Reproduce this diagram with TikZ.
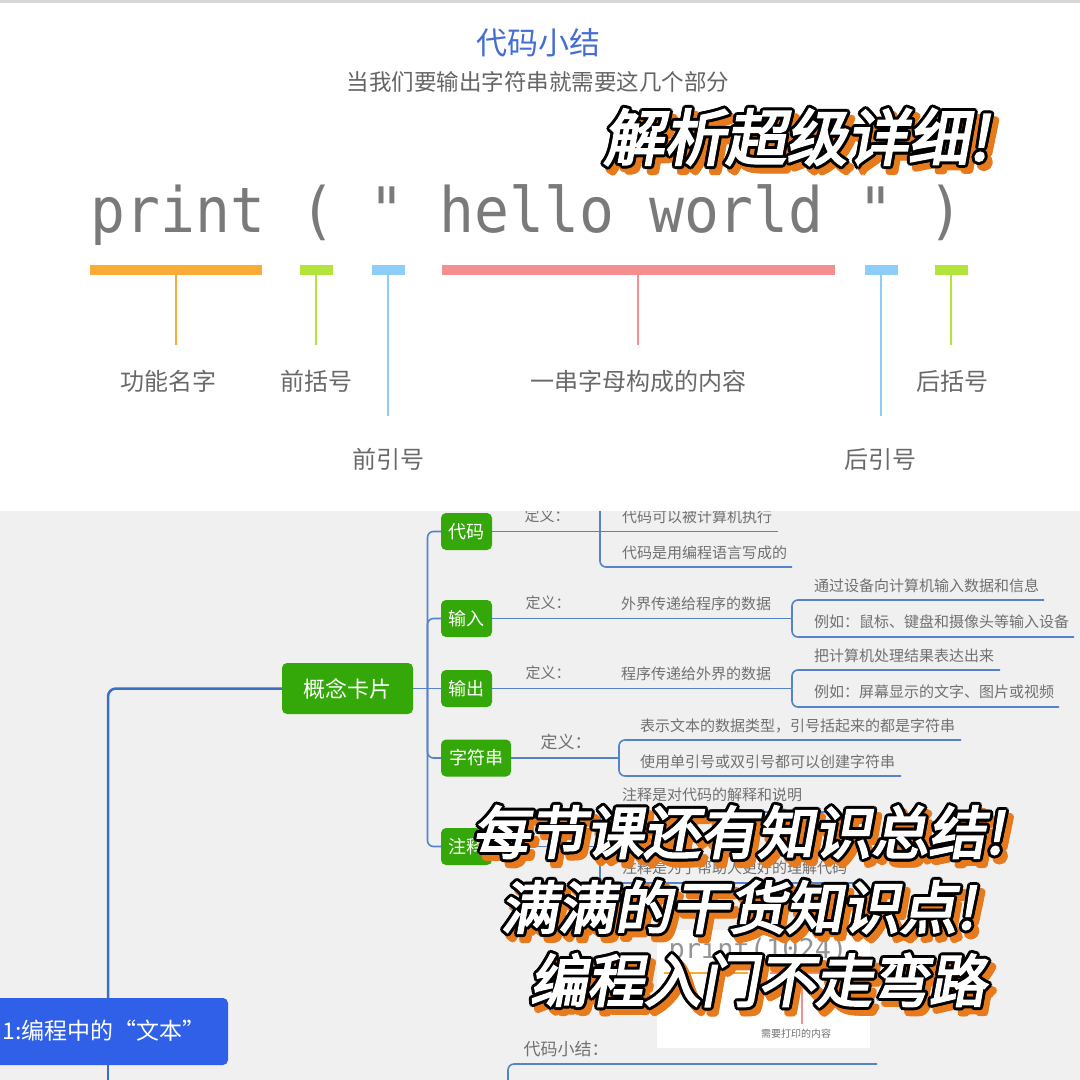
\documentclass[tikz,border=0pt]{standalone}
\usepackage{fontspec}
\usepackage{graphicx}
\setmainfont{Noto Sans CJK SC}
\newfontfamily\monofnt{DejaVu Sans Mono}
\newfontfamily\heavyfnt[FakeBold=3.5,FakeSlant=0.18]{Noto Sans CJK SC}

\definecolor{bggray}{RGB}{240,240,240}
\definecolor{titleblue}{RGB}{70,110,210}
\definecolor{subgray}{RGB}{100,100,100}
\definecolor{labgray}{RGB}{105,105,105}
\definecolor{codegray}{RGB}{122,122,122}
\definecolor{barorange}{RGB}{250,172,56}
\definecolor{barlime}{RGB}{178,228,60}
\definecolor{barblue}{RGB}{140,205,250}
\definecolor{barpink}{RGB}{245,142,142}
\definecolor{mmgreen}{RGB}{52,168,8}
\definecolor{mmline}{RGB}{85,130,200}
\definecolor{mmtrunk}{RGB}{60,110,195}
\definecolor{mmtext}{RGB}{112,112,112}
\definecolor{rootblue}{RGB}{48,96,232}
\definecolor{shadoworange}{RGB}{232,122,30}
\definecolor{topline}{RGB}{215,215,215}

\tikzset{
  gbox/.style={fill=mmgreen, rounded corners=5pt, text=white, inner sep=0pt,
    font=\fontsize{18}{20}\selectfont, minimum height=37pt},
  mmt/.style={text=mmtext, font=\fontsize{15}{17}\selectfont, inner sep=0pt},
  mml/.style={draw=mmline, line width=1.6pt, rounded corners=6pt},
  lab/.style={text=labgray, font=\fontsize{24}{28}\selectfont, inner sep=0pt},
  tickline/.style={line width=2.5pt},
  barline/.style={line width=10pt},
  popfont/.style={font=\heavyfnt\fontsize{#1}{#1}\selectfont, inner sep=0pt},
}

\newcommand\popword[5]{%
  \foreach \a in {0,30,...,330}{\node[popfont=#4, text=shadoworange] (#1s\a) at ({#2+5+3*cos(\a)},{#3+6+3*sin(\a)}) {#5};}
  \foreach \a in {0,30,...,330}{\node[popfont=#4, text=black] (#1o\a) at ({#2+3*cos(\a)},{#3+3*sin(\a)}) {#5};}
  \node[popfont=#4, text=white] (#1) at (#2,#3) {#5};
}

\begin{document}
\begin{tikzpicture}[x=1pt,y=-1pt]
\useasboundingbox (0,0) rectangle (1080,1080);
\clip (0,0) rectangle (1080,1080);
\fill[bggray] (0,0) rectangle (1080,1080);

% ---------- mind map ----------
\node[gbox, minimum width=131pt, minimum height=51pt, font=\fontsize{22}{24}\selectfont] (k) at (347.5,688.5) {概念卡片};
\node[gbox, minimum width=51pt] (c1) at (466.5,531.5) {代码};
\node[gbox, minimum width=51pt] (c2) at (466.5,618.5) {输入};
\node[gbox, minimum width=51pt] (c3) at (466.5,688.5) {输出};
\node[gbox, minimum width=70pt] (c4) at (476,758) {字符串};
\node[gbox, minimum width=51pt] (c5) at (466.5,846.5) {注释};

\node[fill=rootblue, rounded corners=5pt, minimum width=240pt, minimum height=67pt, inner sep=0pt] (root) at (108,1031.5) {};
\node[text=white, font=\fontsize{23}{26}\selectfont, inner sep=0pt] (roottxt) at (104,1031) {1:编程中的“文本”};

\draw[mml, draw=mmtrunk, line width=2.5pt, rounded corners=8pt] (k.west) -| (root.north);
\coordinate (rootbot) at (108,1090);
\draw[mml, draw=mmtrunk, line width=2.5pt] (root.south) -- (rootbot);

\coordinate (j) at (427.5,688.5);
\draw[mml] (k.east) -- (c3.west);
\draw[mml] (c1.west) -| (j);
\draw[mml] (c2.west) -| (j);
\draw[mml] (c4.west) -| (j);
\draw[mml] (c5.west) -| (j);

% row 1
\node[mmt] (d1) at (547,516) {定义：};
\node[mmt, anchor=west] (t11) at (622,517) {代码可以被计算机执行};
\node[mmt, anchor=west] (t12) at (622,553) {代码是用编程语言写成的};
\coordinate (e1) at (778,531.5);
\draw[mml] (c1.east) -- (e1);
\coordinate (v1top) at (600,495);
\coordinate (e12) at (792,567);
\draw[mml] (v1top) |- (e12);

% row 2
\node[mmt] (d2) at (548,603) {定义：};
\node[mmt, anchor=west] (t2) at (621,604) {外界传递给程序的数据};
\coordinate (b2) at (792,618.5);
\draw[mml] (c2.east) -- (b2);
\coordinate (e21) at (1044,600);
\coordinate (e22) at (1074,637);
\draw[mml] (b2) |- (e21);
\draw[mml] (b2) |- (e22);
\node[mmt, anchor=west] (t21) at (814,586) {通过设备向计算机输入数据和信息};
\node[mmt, anchor=west] (t22) at (814,622) {例如：鼠标、键盘和摄像头等输入设备};

% row 3
\node[mmt] (d3) at (548,673) {定义：};
\node[mmt, anchor=west] (t3) at (621,674) {程序传递给外界的数据};
\coordinate (b3) at (792,688.5);
\draw[mml] (c3.east) -- (b3);
\coordinate (e31) at (1000,670);
\coordinate (e32) at (1059,707);
\draw[mml] (b3) |- (e31);
\draw[mml] (b3) |- (e32);
\node[mmt, anchor=west] (t31) at (814,656) {把计算机处理结果表达出来};
\node[mmt, anchor=west] (t32) at (814,692) {例如：屏幕显示的文字、图片或视频};

% row 4
\node[mmt, font=\fontsize{17}{19}\selectfont] (d4) at (566,742) {定义：};
\coordinate (b4) at (619,758);
\draw[mml] (c4.east) -- (b4);
\coordinate (e41) at (961,740);
\coordinate (e42) at (901,776);
\draw[mml] (b4) |- (e41);
\draw[mml] (b4) |- (e42);
\node[mmt, anchor=west] (t41) at (640,726) {表示文本的数据类型，引号括起来的都是字符串};
\node[mmt, anchor=west] (t42) at (640,762) {使用单引号或双引号都可以创建字符串};

% row 5
\coordinate (b5) at (600,846.5);
\draw[mml] (c5.east) -- (b5);
\coordinate (e51) at (832,812);
\coordinate (e52) at (855,883);
\draw[mml] (b5) |- (e51);
\draw[mml] (b5) |- (e52);
\node[mmt, anchor=west] (t51) at (622,795) {注释是对代码的解释和说明};
\node[mmt, anchor=west] (t52) at (622,868) {注释是为了帮助人更好的理解代码};

% bottom picture
\node[fill=white, minimum width=213pt, minimum height=118pt, inner sep=0pt] (img) at (763.5,989) {};
\node[text=codegray!80, font=\monofnt\fontsize{27}{30}\selectfont, inner sep=0pt, anchor=base] (p1024) at (758,958) {print(1024)};
\draw[line width=2.5pt, barorange] (664,973) -- (748,973);
\draw[line width=2.5pt, barlime] (752,973) -- (766,973);
\draw[line width=2.5pt, barpink] (770,973) -- (846,973);
\coordinate (pk1) at (802,973);
\coordinate (pk2) at (802,1024);
\draw[line width=1.5pt, barpink] (pk1) -- (pk2);
\node[mmt, font=\fontsize{10}{12}\selectfont] (need) at (796,1034) {需要打印的内容};
\node[mmt, font=\fontsize{17}{19}\selectfont] (sum) at (566,1049) {代码小结：};
\coordinate (s1) at (508,1090);
\coordinate (s2) at (877,1064);
\draw[mml] (s1) |- (s2);

% overlay words bottom
\popword{ovb}{738}{832}{57}{每节课还有知识总结!}
\popword{ovc}{738}{907}{57}{满满的干货知识点!}
\popword{ovd}{758}{980}{57}{编程入门不走弯路}

% ---------- top panel ----------
\fill[white] (0,0) rectangle (1080,511);
\fill[topline] (0,0) rectangle (1080,2.5);
\node[text=titleblue, font=\fontsize{31}{34}\selectfont, inner sep=0pt] (title) at (538,43) {代码小结};
\node[text=subgray, font=\fontsize{22.5}{25}\selectfont, inner sep=0pt] (sub) at (538,82) {当我们要输出字符串就需要这几个部分};
\node[text=codegray, font=\monofnt\fontsize{58}{64}\selectfont, anchor=base, inner sep=0pt] (code) at (527,232) {\scalebox{1}[1.08]{print ( " hello world " )}};

\draw[barline, barorange] (90,270) -- (262,270);
\draw[barline, barlime] (300,270) -- (333,270);
\draw[barline, barblue] (372,270) -- (405,270);
\draw[barline, barpink] (442,270) -- (835,270);
\draw[barline, barblue] (865,270) -- (898,270);
\draw[barline, barlime] (935,270) -- (968,270);

\node[lab] (l1) at (168,381) {功能名字};
\node[lab] (l2) at (316,381) {前括号};
\node[lab] (l3) at (388,459) {前引号};
\node[lab] (l4) at (638,381) {一串字母构成的内容};
\node[lab] (l5) at (880,459) {后引号};
\node[lab] (l6) at (952,381) {后括号};

\coordinate (k1a) at (176,275); \coordinate (k1b) at (176,345);
\coordinate (k2a) at (316,275); \coordinate (k2b) at (316,345);
\coordinate (k3a) at (388,275); \coordinate (k3b) at (388,416);
\coordinate (k4a) at (638,275); \coordinate (k4b) at (638,345);
\coordinate (k5a) at (881,275); \coordinate (k5b) at (881,416);
\coordinate (k6a) at (951,275); \coordinate (k6b) at (951,345);
\draw[tickline, barorange] (k1a) -- (k1b);
\draw[tickline, barlime] (k2a) -- (k2b);
\draw[tickline, barblue] (k3a) -- (k3b);
\draw[tickline, barpink] (k4a) -- (k4b);
\draw[tickline, barblue] (k5a) -- (k5b);
\draw[tickline, barlime] (k6a) -- (k6b);

\popword{ova}{796}{137}{61}{解析超级详细!}
\end{tikzpicture}
\end{document}
